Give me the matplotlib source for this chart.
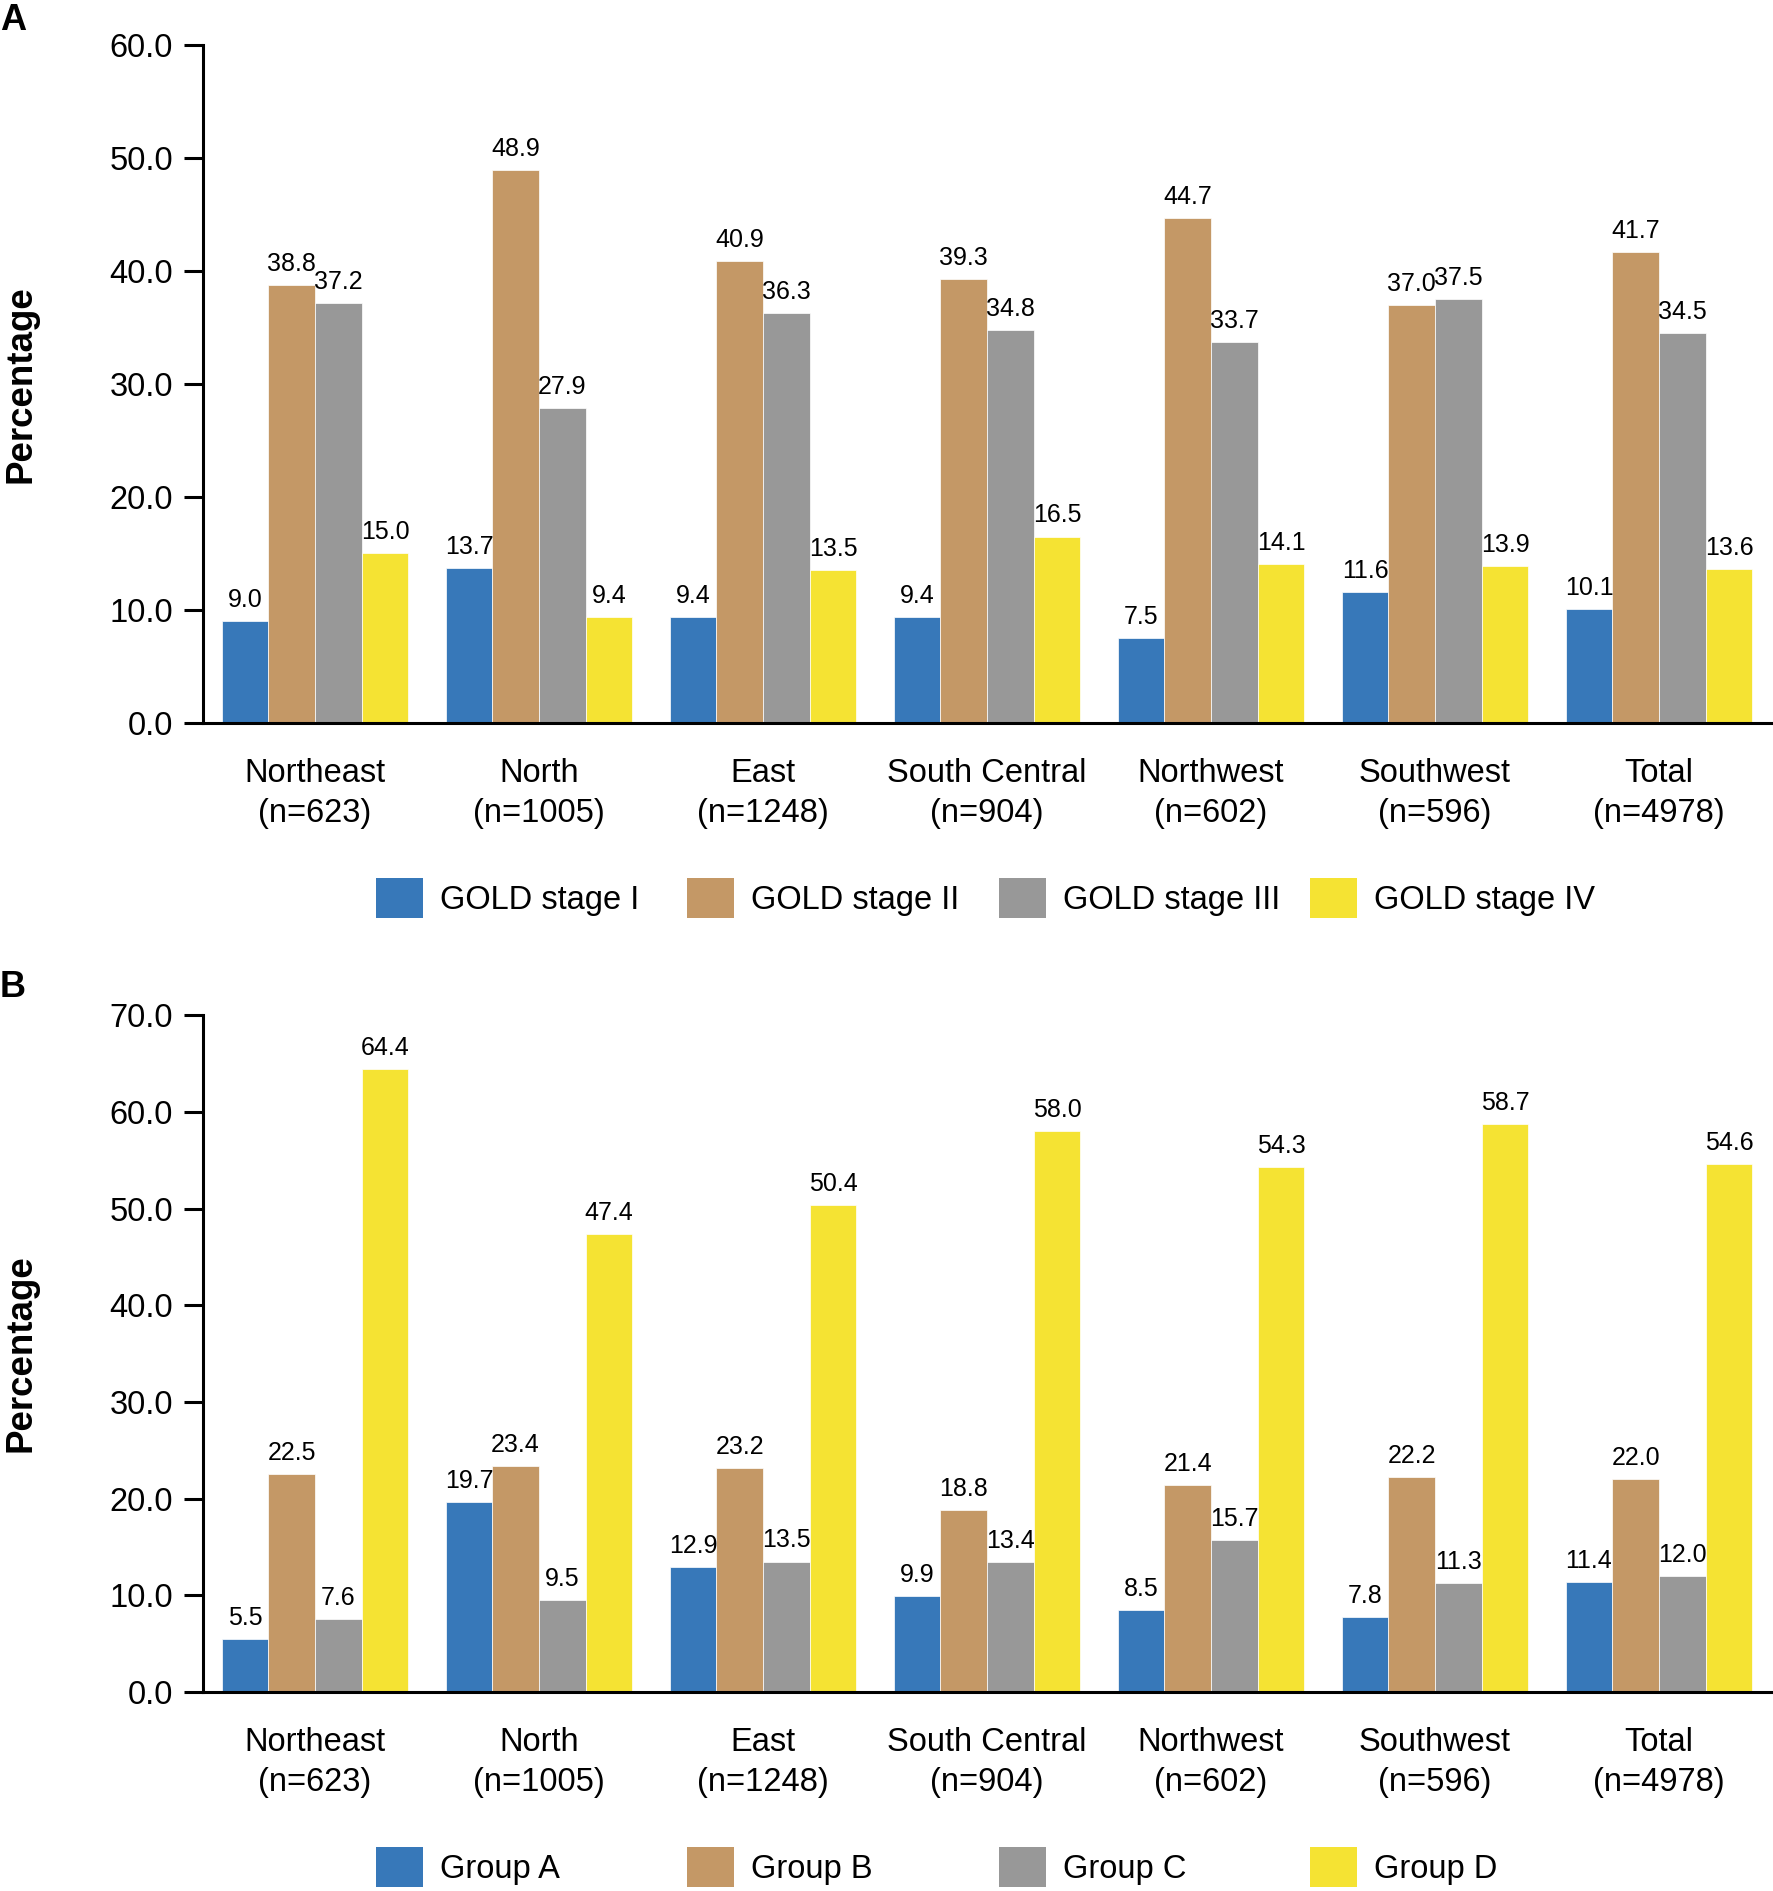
import matplotlib
matplotlib.use("Agg")
import matplotlib.pyplot as plt
from matplotlib.patches import Patch
import numpy as np

plt.rcParams['font.family'] = ['Liberation Sans', 'DejaVu Sans']

# categories
region_names = ['Northeast', 'North', 'East', 'South Central', 'Northwest', 'Southwest', 'Total']
region_n = [623, 1005, 1248, 904, 602, 596, 4978]

# panel A - GOLD stages (%)
gold_labels = ['GOLD stage I', 'GOLD stage II', 'GOLD stage III', 'GOLD stage IV']
gold_1 = [9.0, 13.7, 9.4, 9.4, 7.5, 11.6, 10.1]
gold_2 = [38.8, 48.9, 40.9, 39.3, 44.7, 37.0, 41.7]
gold_3 = [37.2, 27.9, 36.3, 34.8, 33.7, 37.5, 34.5]
gold_4 = [15.0, 9.4, 13.5, 16.5, 14.1, 13.9, 13.6]

# panel B - GOLD groups (%)
group_labels = ['Group A', 'Group B', 'Group C', 'Group D']
group_a = [5.5, 19.7, 12.9, 9.9, 8.5, 7.8, 11.4]
group_b = [22.5, 23.4, 23.2, 18.8, 21.4, 22.2, 22.0]
group_c = [7.6, 9.5, 13.5, 13.4, 15.7, 11.3, 12.0]
group_d = [64.4, 47.4, 50.4, 58.0, 54.3, 58.7, 54.6]

colors = ['#3778B9', '#C49866', '#989898', '#F5E333']


def draw_panel(ax, series, ymax):
    x = np.arange(len(region_names))
    w = 0.2083
    for i, vals in enumerate(series):
        pos = x + (i - 1.5) * w
        bars = ax.bar(pos, vals, width=w, color=colors[i], edgecolor='white', linewidth=0.5)
        for b, v in zip(bars, vals):
            ax.annotate('%.1f' % v, (b.get_x() + b.get_width() / 2, v),
                        xytext=(0, 6.5), textcoords='offset points',
                        ha='center', va='bottom', fontsize=18)
    ax.set_xlim(-0.5, len(region_names) - 0.5)
    ax.set_ylim(0, ymax)
    ax.set_yticks(np.arange(0, ymax + 1, 10))
    ax.set_yticklabels(['%.1f' % t for t in np.arange(0, ymax + 1, 10)])
    ax.set_xticks(x)
    ax.set_xticklabels(['%s\n(n=%d)' % (r, n) for r, n in zip(region_names, region_n)],
                       linespacing=1.4)
    for s in ['top', 'right']:
        ax.spines[s].set_visible(False)
    for s in ['left', 'bottom']:
        ax.spines[s].set_linewidth(2.2)
    ax.tick_params(axis='y', length=13.7, width=2.2, pad=8, labelsize=23.5)
    ax.tick_params(axis='x', length=0, pad=25, labelsize=23.5)
    ax.set_ylabel('Percentage', fontsize=26.5, fontweight='bold', va='center')
    ax.yaxis.set_label_coords(-0.116, 0.5)


def draw_legend(fig, labels, yc):
    # evenly spaced legend entries, like the original
    for i, lab in enumerate(labels):
        fig.legend(handles=[Patch(facecolor=colors[i], edgecolor='none')], labels=[lab],
                   loc='center left', bbox_to_anchor=(0.212 + i * 0.1755, yc),
                   frameon=False, borderpad=0, borderaxespad=0, fontsize=23.5,
                   handlelength=1.44, handleheight=1.47, handletextpad=0.52)


fig = plt.figure(figsize=(17.74, 18.91), dpi=100)

axA = fig.add_axes([0.1144, 0.6177, 0.8839, 0.3585])
draw_panel(axA, [gold_1, gold_2, gold_3, gold_4], 60)
draw_legend(fig, gold_labels, 0.5251)

axB = fig.add_axes([0.1144, 0.1052, 0.8839, 0.3580])
draw_panel(axB, [group_a, group_b, group_c, group_d], 70)
draw_legend(fig, group_labels, 0.0127)

# panel letters
fig.text(0.0, 1 - 30 / 1891, 'A', fontsize=26, fontweight='bold', va='baseline', ha='left')
fig.text(0.0, 1 - 997 / 1891, 'B', fontsize=26, fontweight='bold', va='baseline', ha='left')

fig.savefig('out.png', dpi=100)
